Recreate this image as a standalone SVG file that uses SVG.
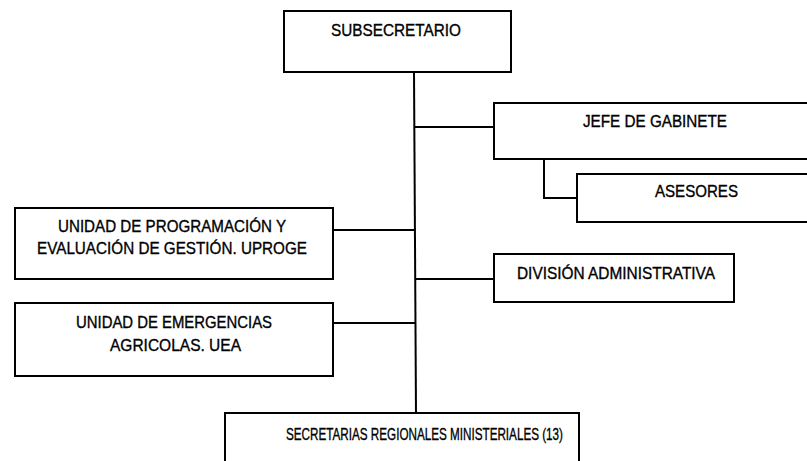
<svg xmlns="http://www.w3.org/2000/svg" width="807" height="461" viewBox="0 0 807 461">
<style>
.box{fill:#fff;stroke:#000;stroke-width:2}
.lbl{font-family:"Liberation Sans",Arial,sans-serif;font-size:17px;fill:#000;stroke:#000;stroke-width:0.35;text-anchor:start}
.conn{stroke:#000;stroke-width:2;fill:none}
</style>
<rect width="807" height="461" fill="#fff"/>
<g id="connectors">
<path class="conn" d="M414,72 L416,413"/>
<path class="conn" d="M414,127 H494"/>
<path class="conn" d="M544,159 V198 H577"/>
<path class="conn" d="M333,230 H415"/>
<path class="conn" d="M415,279 H494"/>
<path class="conn" d="M333,323 H415"/>
</g>
<g id="subsecretario">
<rect class="box" x="284" y="11" width="227" height="61"/>
<text class="lbl" x="331" y="36" textLength="130" lengthAdjust="spacingAndGlyphs">SUBSECRETARIO</text>
</g>
<g id="jefe-gabinete">
<rect class="box" x="494" y="103" width="330" height="56"/>
<text class="lbl" x="583" y="127" textLength="144" lengthAdjust="spacingAndGlyphs">JEFE DE GABINETE</text>
</g>
<g id="asesores">
<rect class="box" x="577" y="174" width="250" height="48"/>
<text class="lbl" x="655" y="197" textLength="83" lengthAdjust="spacingAndGlyphs">ASESORES</text>
</g>
<g id="uproge">
<rect class="box" x="15" y="208" width="318" height="71"/>
<text class="lbl" x="58" y="232" textLength="228" lengthAdjust="spacingAndGlyphs">UNIDAD DE PROGRAMACIÓN Y</text>
<text class="lbl" x="37" y="254" textLength="270" lengthAdjust="spacingAndGlyphs">EVALUACIÓN DE GESTIÓN. UPROGE</text>
</g>
<g id="division-administrativa">
<rect class="box" x="494" y="254" width="240" height="48"/>
<text class="lbl" x="517" y="279" textLength="198" lengthAdjust="spacingAndGlyphs">DIVISIÓN ADMINISTRATIVA</text>
</g>
<g id="uea">
<rect class="box" x="15" y="303" width="318" height="73"/>
<text class="lbl" x="76" y="328" textLength="196" lengthAdjust="spacingAndGlyphs">UNIDAD DE EMERGENCIAS</text>
<text class="lbl" x="110" y="351" textLength="131" lengthAdjust="spacingAndGlyphs">AGRICOLAS. UEA</text>
</g>
<g id="seremi">
<rect class="box" x="225" y="413" width="354" height="70"/>
<text class="lbl" x="286" y="440" textLength="277" lengthAdjust="spacingAndGlyphs">SECRETARIAS REGIONALES MINISTERIALES (13)</text>
</g>
</svg>
